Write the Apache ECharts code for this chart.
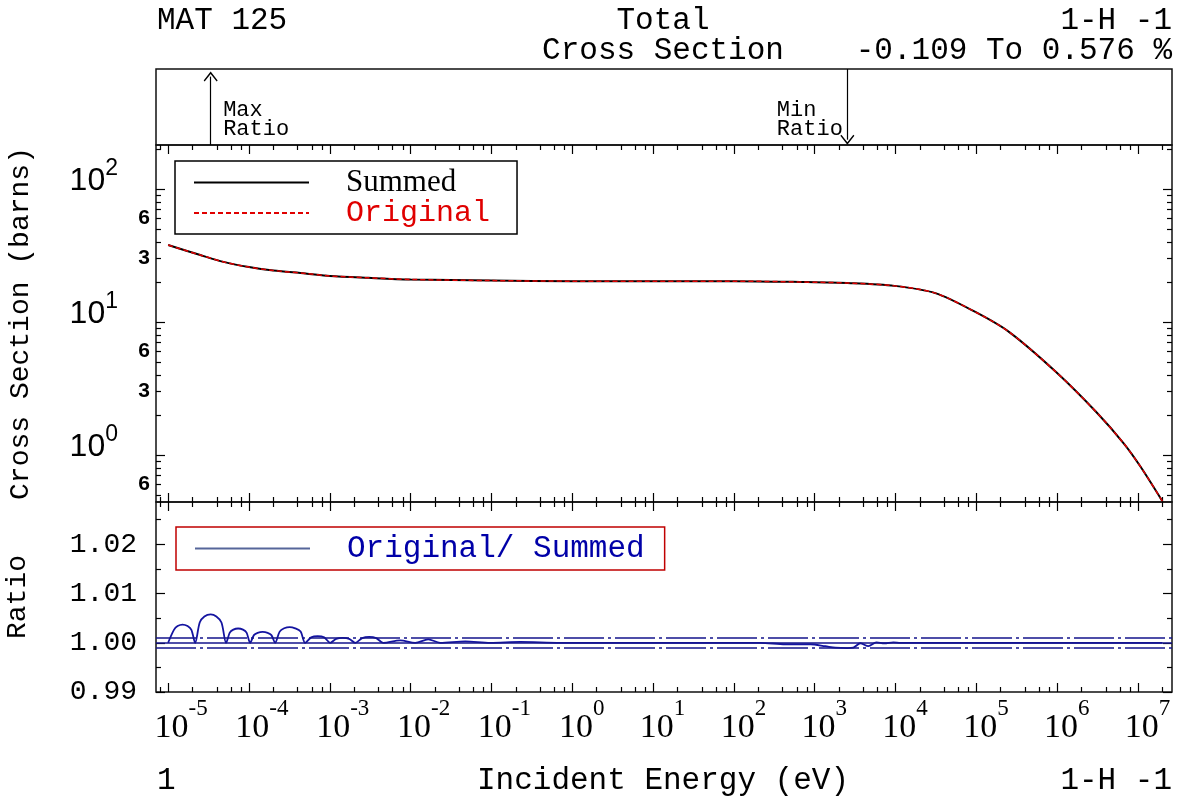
<!DOCTYPE html>
<html>
<head>
<meta charset="utf-8">
<title>MAT 125 Total Cross Section</title>
<script src="https://cdn.jsdelivr.net/npm/echarts@6.0.0/dist/echarts.min.js"></script>
<style>
  html, body { margin: 0; padding: 0; background: #fff; }
  #chart { width: 1180px; height: 804px; }
</style>
</head>
<body>
<div id="chart"></div>
<script>
// energies in eV, cross sections in barns
var xsEnergy = [1e-5, 2.5e-5, 5e-5, 1e-4, 2e-4, 5e-4, 1e-3, 3e-3, 1e-2, 0.1, 1, 10, 100,
    660, 2800, 9700, 3.1e4, 9.7e4, 2.55e5, 9.75e5, 3.1e6, 6.6e6, 1.07e7, 2.0e7];
var summedXs = [37.9, 31.9, 28.2, 25.9, 24.4, 23.2, 22.2, 21.5, 20.9, 20.5, 20.3, 20.3, 20.3,
    20.0, 19.6, 18.7, 16.5, 11.9, 8.4, 4.19, 2.08, 1.23, 0.82, 0.45];
var originalXs = [37.9, 31.9, 28.2, 25.9, 24.4, 23.2, 22.2, 21.5, 20.9, 20.5, 20.3, 20.3, 20.3,
    20.0, 19.6, 18.7, 16.5, 11.9, 8.4, 4.19, 2.08, 1.23, 0.82, 0.45];

// Original / Summed ratio
var ratioEnergy = [
    1.00e-5, 1.18e-5, 1.31e-5, 1.51e-5, 1.74e-5, 1.94e-5, 2.16e-5,
    2.46e-5, 2.81e-5, 3.36e-5, 3.95e-5, 4.57e-5, 5.22e-5,
    5.79e-5, 6.41e-5, 7.35e-5, 8.43e-5, 9.34e-5, 1.035e-4,
    1.151e-4, 1.281e-4, 1.478e-4, 1.703e-4, 1.896e-4, 2.109e-4,
    2.399e-4, 2.726e-4, 3.19e-4, 3.73e-4, 4.36e-4, 4.96e-4,
    5.89e-4, 7.08e-4, 8.52e-4, 1.012e-3,
    1.20e-3, 1.444e-3, 1.738e-3, 2.063e-3,
    2.518e-3, 3.074e-3, 3.752e-3, 4.58e-3,
    7.43e-3, 1.14e-2, 1.651e-2, 2.32e-2,
    4.74e-2, 9.66e-2, 0.227, 0.710,
    212, 433, 882, 1353, 1799, 2532, 3003, 3667, 4607, 5786, 7269, 9393, 11469, 2.0e7];
var ratioValue = [
    1.0000, 1.00263, 1.0034, 1.0037, 1.0034, 1.00263, 1.0000,
    1.00412, 1.00534, 1.00576, 1.00534, 1.00412, 1.0000,
    1.00206, 1.00267, 1.0029, 1.00267, 1.00206, 1.0000,
    1.00156, 1.00202, 1.0022, 1.00202, 1.00156, 1.0000,
    1.00227, 1.00294, 1.0032, 1.00294, 1.00227, 1.0000,
    1.0011, 1.00135, 1.0011, 1.0000,
    1.0008, 1.0010, 1.0008, 1.0000,
    1.00095, 1.0012, 1.00095, 1.0000,
    1.0005, 1.0000, 1.0007, 1.0000,
    1.0003, 1.0000, 1.0002, 1.0000,
    1.0000, 0.9997, 0.9997, 0.9993, 0.9990, 0.99891, 0.9990, 0.9999, 0.9993, 1.0001, 0.9999, 1.0001, 1.0000, 1.0000];
var ratioBands = [0.999, 1.0, 1.001];

var xDecades = [-5, -4, -3, -2, -1, 0, 1, 2, 3, 4, 5, 6, 7];
var yDecades = [0, 1, 2];
var yMinorLabels = [6, 3];
var ratioTicks = [0.99, 1.00, 1.01, 1.02];
var ratioMinor = [0.995, 1.005, 1.015, 1.025];

var X_MIN = -5.15, X_MAX = 7.42;
var Y_MIN = -0.353, Y_MAX = 2.331;
var R_MIN = 0.99, R_MAX = 1.0286;

var myChart = echarts.init(document.getElementById('chart'));

// log tick positions
var xMinor = [];
for (var d = -6; d <= 7; d++) {
    [2, 4, 6, 8].forEach(function (m) {
        var v = d + Math.log10(m);
        if (v > X_MIN && v < X_MAX) xMinor.push(v);
    });
}
var yMinor = [], yLabelPos = [];
for (var k = -1; k <= 2; k++) {
    for (var m = 2; m <= 9; m++) {
        var v = k + Math.log10(m);
        if (v > Y_MIN && v < Y_MAX) yMinor.push(v);
    }
    yMinorLabels.forEach(function (n) {
        var p = k + Math.log10(n);
        if (p > Y_MIN && p < Y_MAX) yLabelPos.push(p);
    });
}

var tickLine = { color: '#000', width: 1.2 };

function xAx(grid, pos, ticks, len, label) {
    return {
        type: 'value', gridIndex: grid, position: pos, min: X_MIN, max: X_MAX,
        axisLine: { show: false, onZero: false }, splitLine: { show: false },
        axisTick: { show: len > 0, inside: true, length: len, customValues: ticks, lineStyle: tickLine },
        axisLabel: label || { show: false }
    };
}
function yAx(grid, pos, min, max, ticks, len, label, extra) {
    var a = {
        type: 'value', gridIndex: grid, position: pos, min: min, max: max,
        axisLine: { show: false, onZero: false }, splitLine: { show: false },
        axisTick: { show: len > 0, inside: true, length: len, customValues: ticks, lineStyle: tickLine },
        axisLabel: label || { show: false }
    };
    if (extra) Object.assign(a, extra);
    return a;
}

var xLabel = {
    show: true, customValues: xDecades, margin: 5, color: '#000',
    formatter: function (v) {
        var e = Math.round(v);
        return '{' + (e < 0 ? 'pn' : 'pp') + '| }{b|10}{s|' + e + '}';
    },
    rich: {
        pn: { width: 26, fontSize: 10 },
        pp: { width: 19, fontSize: 10 },
        b: { fontFamily: 'Liberation Serif', fontSize: 34, lineHeight: 48, verticalAlign: 'bottom', color: '#000' },
        s: { fontFamily: 'Liberation Serif', fontSize: 23, lineHeight: 23, verticalAlign: 'top', color: '#000' }
    }
};
var yMajorLabel = {
    show: true, customValues: yDecades, margin: 38, color: '#000', padding: [0, 0, 24, 0],
    formatter: function (v) { return '{b|10}{s|' + Math.round(v) + '}'; },
    rich: {
        b: { fontFamily: 'Liberation Sans', fontSize: 32, lineHeight: 40, verticalAlign: 'bottom', color: '#000' },
        s: { fontFamily: 'Liberation Sans', fontSize: 23, lineHeight: 23, verticalAlign: 'top', color: '#000' }
    }
};
var yMinorLabel = {
    show: true, customValues: yLabelPos, margin: 6, color: '#000', padding: [0, 0, 20, 0],
    fontFamily: 'Liberation Sans', fontSize: 21, fontWeight: 'bold',
    formatter: function (v) { return String(Math.round(Math.pow(10, v - Math.floor(v)))); }
};
var ratioLabel = {
    show: true, customValues: ratioTicks, margin: 19, color: '#000', padding: [0, 0, 22, 0],
    fontFamily: 'Liberation Mono', fontSize: 28,
    formatter: function (v) { return v.toFixed(2); }
};
var nameFont = { fontFamily: 'Liberation Mono', fontSize: 28, color: '#000' };

// where max / min of the ratio fall
var iMax = 0, iMin = 0;
ratioValue.forEach(function (r, i) {
    if (r > ratioValue[iMax]) iMax = i;
    if (r < ratioValue[iMin]) iMin = i;
});
var xAtMax = Math.log10(ratioEnergy[iMax]);
var xAtMin = Math.log10(ratioEnergy[iMin]);

var ARROW = 'path://M0,0 L7,9 L6,10 L0,2.4 L-6,10 L-7,9 Z';
var txt = { fontFamily: 'Liberation Mono', fontSize: 31, fontWeight: 'normal', color: '#000', lineHeight: 31 };
var noSymbol = { color: 'rgba(0,0,0,0)', borderWidth: 0, opacity: 0 };

var option = {
    animation: false,
    backgroundColor: '#fff',
    title: [
        { text: 'MAT 125', left: 157, top: 5, padding: 0, textStyle: txt },
        { text: 'Total', left: 663, textAlign: 'center', top: 5, padding: 0, textStyle: txt },
        { text: 'Cross Section', left: 663, textAlign: 'center', top: 35, padding: 0, textStyle: txt },
        { text: '1-H -1', right: 8, top: 5, padding: 0, textStyle: txt },
        { text: '-0.109 To 0.576 %', right: 8, top: 35, padding: 0, textStyle: txt },
        { text: '1', left: 157, top: 765, padding: 0, textStyle: txt },
        { text: 'Incident Energy (eV)', left: 663, textAlign: 'center', top: 765, padding: 0, textStyle: txt },
        { text: '1-H -1', right: 8, top: 765, padding: 0, textStyle: txt }
    ],
    legend: [
        {
            left: 175, top: 161, orient: 'vertical', selectedMode: false,
            borderColor: '#000', borderWidth: 1.5, padding: [6, 27, 6, 18],
            itemWidth: 115, itemHeight: 14, itemGap: 0, itemStyle: noSymbol,
            textStyle: { fontFamily: 'Liberation Mono', fontSize: 30, lineHeight: 30, padding: [0, 0, 0, 32] },
            data: [
                { name: 'Summed', itemStyle: noSymbol, textStyle: { color: '#000', fontFamily: 'Liberation Serif', fontSize: 31 } },
                { name: 'Original', itemStyle: noSymbol, textStyle: { color: '#e00000' } }
            ]
        },
        {
            left: 176, top: 527, orient: 'vertical', selectedMode: false,
            borderColor: '#c00000', borderWidth: 1.5, padding: [6, 20, 6, 18],
            itemWidth: 115, itemHeight: 14, itemGap: 0, itemStyle: noSymbol,
            textStyle: { fontFamily: 'Liberation Mono', fontSize: 31, lineHeight: 31, padding: [0, 0, 0, 32] },
            data: [
                { name: 'Original/ Summed', itemStyle: noSymbol, textStyle: { color: '#0000a8' }, lineStyle: { color: '#56669a', width: 2 } }
            ]
        }
    ],
    grid: [
        { left: 156, right: 8, top: 69, height: 76, show: true, borderColor: '#111', borderWidth: 1.5, backgroundColor: 'transparent', outerBoundsMode: 'none' },
        { left: 156, right: 8, top: 145, height: 357, show: true, borderColor: '#111', borderWidth: 1.5, backgroundColor: 'transparent', outerBoundsMode: 'none' },
        { left: 156, right: 8, top: 502, height: 190, show: true, borderColor: '#111', borderWidth: 1.5, backgroundColor: 'transparent', outerBoundsMode: 'none' }
    ],
    xAxis: [
        xAx(0, 'bottom', [], 0),
        xAx(1, 'bottom', xDecades, 9),
        xAx(1, 'bottom', xMinor, 5),
        xAx(1, 'top', xDecades, 9),
        xAx(1, 'top', xMinor, 5),
        xAx(2, 'bottom', xDecades, 9, xLabel),
        xAx(2, 'bottom', xMinor, 5),
        xAx(2, 'top', xDecades, 9),
        xAx(2, 'top', xMinor, 5)
    ],
    yAxis: [
        yAx(0, 'left', 0, 1, [], 0),
        yAx(1, 'left', Y_MIN, Y_MAX, yDecades, 9, yMajorLabel, {
            name: 'Cross Section (barns)', nameLocation: 'middle', nameGap: 121, nameRotate: 90,
            nameTextStyle: nameFont, nameMoveOverlap: false
        }),
        yAx(1, 'left', Y_MIN, Y_MAX, yMinor, 5, yMinorLabel),
        yAx(1, 'right', Y_MIN, Y_MAX, yDecades, 9),
        yAx(1, 'right', Y_MIN, Y_MAX, yMinor, 5),
        yAx(2, 'left', R_MIN, R_MAX, ratioTicks, 9, ratioLabel, {
            name: 'Ratio', nameLocation: 'middle', nameGap: 124, nameRotate: 90,
            nameTextStyle: nameFont, nameMoveOverlap: false
        }),
        yAx(2, 'left', R_MIN, R_MAX, ratioMinor, 5),
        yAx(2, 'right', R_MIN, R_MAX, ratioTicks, 9),
        yAx(2, 'right', R_MIN, R_MAX, ratioMinor, 5)
    ],
    series: [
        {
            type: 'line', xAxisIndex: 0, yAxisIndex: 0, data: [], silent: true,
            markLine: {
                silent: true, symbol: ['none', ARROW], symbolSize: [14, 10], precision: 6,
                label: { show: false },
                lineStyle: { color: '#000', width: 1.2, type: 'solid' },
                data: [
                    [{ coord: [xAtMax, 0] }, { coord: [xAtMax, 0.9] }],
                    [{ coord: [xAtMin, 1] }, { coord: [xAtMin, 0.07] }]
                ]
            },
            markPoint: {
                silent: true, symbol: 'circle', symbolSize: 1,
                itemStyle: { color: 'rgba(0,0,0,0)' },
                label: { fontFamily: 'Liberation Mono', fontSize: 22, lineHeight: 19, color: '#000' },
                data: [
                    { coord: [xAtMax, 0], label: { formatter: 'Max\nRatio', position: [13, -6], align: 'left', verticalAlign: 'bottom' } },
                    { coord: [xAtMin, 0], label: { formatter: 'Min  \nRatio', position: [-4, -6], align: 'right', verticalAlign: 'bottom' } }
                ]
            }
        },
        {
            name: 'Summed', type: 'line', xAxisIndex: 1, yAxisIndex: 1,
            data: xsEnergy.map(function (e, i) { return [Math.log10(e), Math.log10(summedXs[i])]; }),
            symbol: 'none', smooth: 0.3,
            lineStyle: { color: '#000', width: 2 }, itemStyle: { color: '#000' }, z: 2
        },
        {
            name: 'Original', type: 'line', xAxisIndex: 1, yAxisIndex: 1,
            data: xsEnergy.map(function (e, i) { return [Math.log10(e), Math.log10(originalXs[i])]; }),
            symbol: 'none', smooth: 0.3,
            lineStyle: { color: '#e00000', width: 1.5, type: [5, 3] }, itemStyle: { color: '#e00000' }, z: 3
        },
        {
            name: 'Original/ Summed', type: 'line', xAxisIndex: 5, yAxisIndex: 5,
            data: ratioEnergy.map(function (e, i) { return [Math.log10(e), ratioValue[i]]; }),
            symbol: 'none', smooth: 0.3,
            lineStyle: { color: '#1414a0', width: 1.8 }, itemStyle: { color: '#1414a0' }, z: 3,
            markLine: {
                silent: true, symbol: 'none', precision: 6, label: { show: false },
                lineStyle: { color: '#14148c', width: 1.5 },
                data: ratioBands.map(function (b) {
                    return { yAxis: b, lineStyle: { color: '#14148c', width: 1.5, type: b === 1.0 ? 'solid' : [40, 4, 3, 4] } };
                })
            }
        }
    ]
};

myChart.setOption(option);
</script>
</body>
</html>
